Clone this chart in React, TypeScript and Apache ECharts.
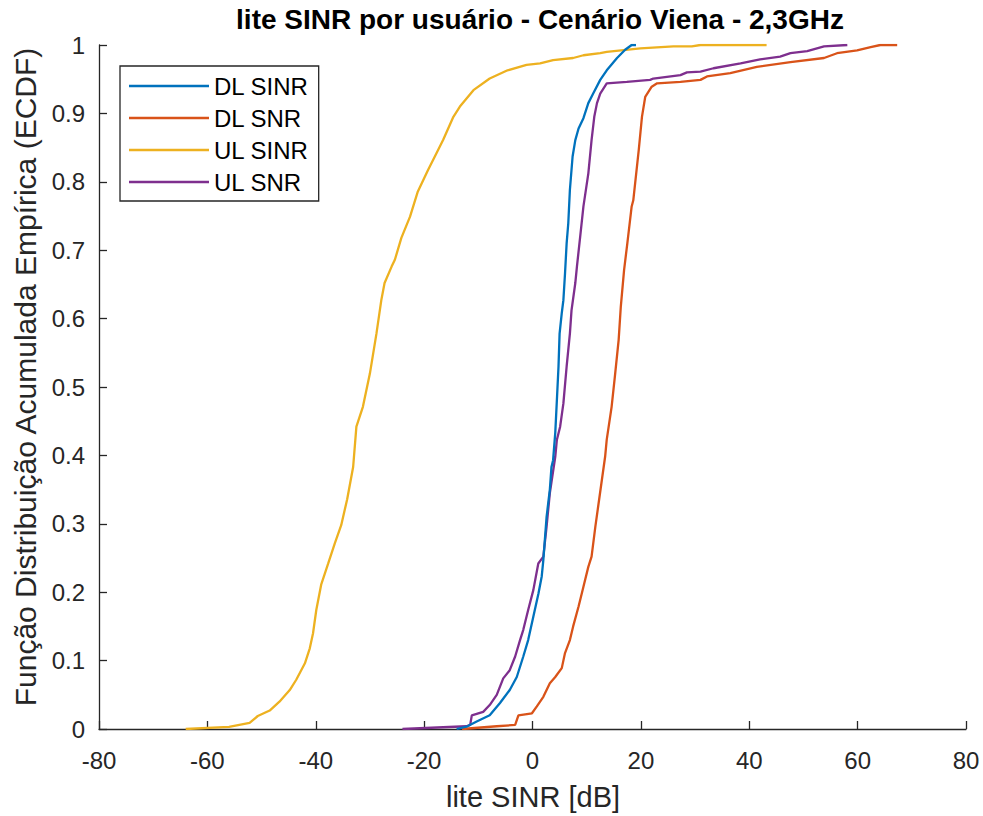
import React, { useEffect, useRef } from "react";
import * as echarts from "echarts";

const titleText = "lite SINR por usuário - Cenário Viena - 2,3GHz";
const xLabel = "lite SINR [dB]";
const yLabel = "Função Distribuição Acumulada Empírica (ECDF)";
const seriesNames = ["DL SINR", "DL SNR", "UL SINR", "UL SNR"];
const seriesColors = ["#0072BD", "#D95319", "#EDB120", "#7E2F8E"];

const dlSinr: number[][] = [
  [-14, 0], [-12, 0.004], [-10.3, 0.011], [-7.9, 0.02], [-6, 0.038], [-4.2, 0.057], [-2.9, 0.076],
  [-1.7, 0.106], [-0.8, 0.13], [0.15, 0.164], [1.1, 0.198], [1.7, 0.223], [2.0, 0.247], [2.6, 0.31],
  [3.2, 0.35], [3.5, 0.383], [3.8, 0.393], [4.2, 0.433], [4.5, 0.481], [4.8, 0.53], [5.0, 0.578],
  [5.4, 0.608], [5.7, 0.627], [6.0, 0.666], [6.3, 0.71], [6.6, 0.739], [6.9, 0.788], [7.4, 0.837],
  [7.9, 0.861], [8.5, 0.878], [9.4, 0.893], [10.3, 0.915], [11.2, 0.929], [12.5, 0.949], [13.7, 0.963],
  [15.6, 0.981], [17.1, 0.993], [18.3, 1.0], [19.1, 1.0],
];

const dlSnr: number[][] = [
  [-13, 0], [-6.6, 0.004], [-3.2, 0.006], [-2.6, 0.02], [-0.1, 0.023], [0.8, 0.033], [2.0, 0.047],
  [3.2, 0.067], [4.2, 0.076], [5.4, 0.089], [6.0, 0.111], [6.9, 0.13], [7.5, 0.15], [8.5, 0.179],
  [9.4, 0.208], [10.3, 0.237], [10.9, 0.252], [11.6, 0.296], [12.2, 0.33], [12.8, 0.364], [13.4, 0.398],
  [13.7, 0.423], [14.6, 0.471], [15.2, 0.515], [15.9, 0.569], [16.3, 0.618], [16.9, 0.671], [17.5, 0.71],
  [18.3, 0.764], [18.6, 0.773], [19.6, 0.846], [20.2, 0.895], [20.8, 0.924], [22.0, 0.939], [23.0, 0.944],
  [27.3, 0.946], [31, 0.949], [32.2, 0.954], [36.5, 0.959], [41.4, 0.968], [47.6, 0.975], [53.8, 0.981],
  [56.2, 0.988], [59.9, 0.992], [62.4, 0.997], [64.2, 1.0], [67.3, 1.0],
];

const ulSinr: number[][] = [
  [-64, 0], [-56, 0.003], [-52.2, 0.009], [-50.7, 0.019], [-48.5, 0.027], [-46.7, 0.04], [-44.8, 0.057],
  [-43.6, 0.072], [-42, 0.096], [-41.1, 0.118], [-40.5, 0.14], [-39.9, 0.174], [-39, 0.211], [-37.7, 0.242],
  [-36.5, 0.271], [-35.3, 0.298], [-34.2, 0.336], [-33.1, 0.383], [-32.5, 0.442], [-31.3, 0.471],
  [-30, 0.52], [-28.8, 0.578], [-27.9, 0.627], [-27.3, 0.652], [-26, 0.676], [-25.4, 0.686], [-24.2, 0.718],
  [-22.6, 0.749], [-21.2, 0.785], [-19.3, 0.817], [-17.7, 0.842], [-16.5, 0.861], [-14.6, 0.895],
  [-13.4, 0.91], [-10.9, 0.934], [-7.9, 0.951], [-4.6, 0.963], [-1.1, 0.971], [1.4, 0.973], [3.8, 0.978],
  [7.5, 0.981], [9.4, 0.985], [12.5, 0.988], [13.7, 0.99], [19.9, 0.995], [26, 0.998], [29.4, 0.998],
  [31, 1.0], [43.2, 1.0],
];

const ulSnr: number[][] = [
  [-24, 0], [-12.2, 0.004], [-11.5, 0.006], [-11.2, 0.02], [-9.1, 0.025], [-7.9, 0.035], [-6.6, 0.05],
  [-5.4, 0.074], [-4.2, 0.086], [-3.2, 0.106], [-2.3, 0.13], [-1.7, 0.145], [-0.8, 0.174], [0.15, 0.203],
  [1.07, 0.242], [2.0, 0.252], [2.6, 0.296], [3.2, 0.345], [4.2, 0.398], [4.5, 0.423], [5.1, 0.442],
  [5.7, 0.476], [6.3, 0.53], [6.9, 0.578], [7.2, 0.612], [7.9, 0.652], [8.2, 0.676], [8.8, 0.72],
  [9.4, 0.764], [10.3, 0.812], [10.9, 0.861], [11.4, 0.895], [11.9, 0.915], [12.5, 0.929], [13.7, 0.944],
  [17.4, 0.946], [21.7, 0.949], [22.3, 0.951], [27.3, 0.956], [28.5, 0.96], [31, 0.961], [33.4, 0.966],
  [38.4, 0.973], [42, 0.979], [45.7, 0.983], [47.6, 0.988], [50.7, 0.991], [53.8, 0.998], [58.1, 1.0],
];

const seriesData = [dlSinr, dlSnr, ulSinr, ulSnr];

const FONT = "'Liberation Sans', Arial, Helvetica, sans-serif";
const AX = "#262626";

export default function App() {
  const ref = useRef<HTMLDivElement>(null);
  useEffect(() => {
    if (!ref.current) return;
    const chart = echarts.init(ref.current, null, { renderer: "svg" });
    chart.setOption({
      animation: false,
      backgroundColor: "#ffffff",
      textStyle: { fontFamily: FONT },
      grid: { left: 99, right: 17, top: 45, bottom: 87, containLabel: false },
      xAxis: {
        type: "value",
        min: -80,
        max: 80,
        interval: 20,
        axisLine: { show: true, onZero: false, lineStyle: { color: AX, width: 1.3 } },
        axisTick: { show: true, inside: true, length: 8, lineStyle: { color: AX, width: 1.3 } },
        axisLabel: { color: AX, fontSize: 24, margin: 19, fontFamily: FONT },
        splitLine: { show: false },
      },
      yAxis: {
        type: "value",
        min: 0,
        max: 1,
        interval: 0.1,
        axisLine: { show: true, onZero: false, lineStyle: { color: AX, width: 1.3 } },
        axisTick: { show: true, inside: true, length: 8, lineStyle: { color: AX, width: 1.3 } },
        axisLabel: {
          color: AX,
          fontSize: 24,
          margin: 14,
          fontFamily: FONT,
          formatter: (v: number) => String(Math.round(v * 10) / 10),
        },
        splitLine: { show: false },
      },
      legend: {
        orient: "vertical",
        left: 120,
        top: 66,
        padding: [8, 10, 7, 9],
        itemGap: 8,
        itemWidth: 80,
        itemHeight: 2.5,
        itemTextGap: 8,
        icon: "rect",
        borderColor: AX,
        borderWidth: 1.3,
        backgroundColor: "#ffffff",
        textStyle: { color: "#000000", fontSize: 24, fontFamily: FONT },
        data: seriesNames,
      },
      series: seriesNames.map((name, i) => ({
        name,
        type: "line",
        data: seriesData[i],
        symbol: "none",
        showSymbol: false,
        color: seriesColors[i],
        itemStyle: { color: seriesColors[i] },
        lineStyle: { color: seriesColors[i], width: 2.3 },
        z: 2 + (i === 0 ? 1 : 0),
      })),
      graphic: [
        {
          type: "text",
          x: 540,
          y: 19,
          style: {
            text: titleText,
            fontSize: 28,
            fontWeight: "bold",
            fontFamily: FONT,
            fill: "#000000",
            textAlign: "center",
            textVerticalAlign: "middle",
          },
        },
        {
          type: "text",
          x: 533,
          y: 797,
          style: {
            text: xLabel,
            fontSize: 29,
            fontFamily: FONT,
            fill: AX,
            textAlign: "center",
            textVerticalAlign: "middle",
          },
        },
        {
          type: "text",
          x: 25,
          y: 377,
          rotation: Math.PI / 2,
          style: {
            text: yLabel,
            fontSize: 30,
            fontFamily: FONT,
            fill: AX,
            textAlign: "center",
            textVerticalAlign: "middle",
          },
        },
      ],
    });
    return () => chart.dispose();
  }, []);
  return (
    <div
      ref={ref}
      style={{ position: "absolute", left: 0, top: 0, width: 983, height: 816 }}
    />
  );
}
